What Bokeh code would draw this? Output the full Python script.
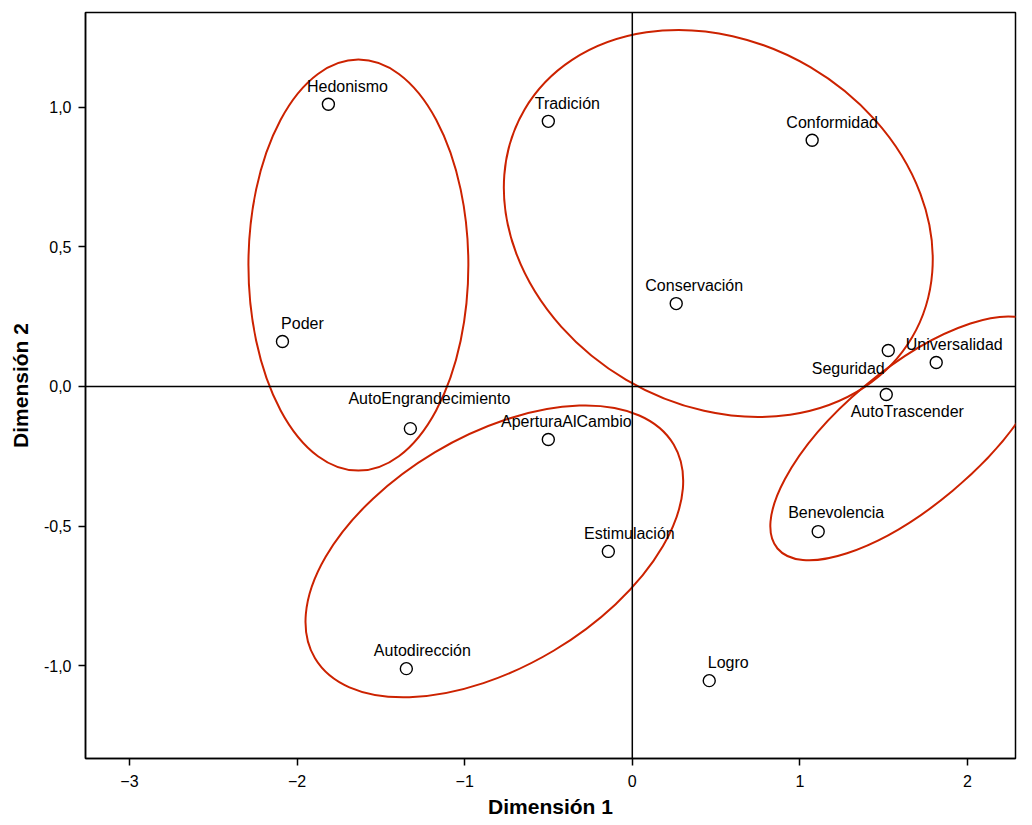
from bokeh.plotting import figure
from bokeh.models import ColumnDataSource, Span, FixedTicker
from bokeh.core.properties import value
from bokeh.embed import file_html
from bokeh.resources import INLINE

# --- data ---
names = ["Hedonismo", "Tradición", "Conformidad", "Conservación", "Poder",
         "Universalidad", "Seguridad", "AutoTrascender", "AutoEngrandecimiento",
         "AperturaAlCambio", "Estimulación", "Autodirección", "Benevolencia", "Logro"]
dim1 = [-1.813, -0.501, 1.073, 0.262, -2.087, 1.813, 1.527, 1.515, -1.324,
        -0.501, -0.143, -1.348, 1.109, 0.459]
dim2 = [1.011, 0.950, 0.882, 0.297, 0.161, 0.086, 0.129, -0.029, -0.151,
        -0.190, -0.591, -1.011, -0.520, -1.054]

# cluster ellipses (centre, width in dim1 units, height in dim2 units, angle)
ell_x = [-1.634, 0.513, -0.823, 1.649]
ell_y = [0.435, 0.584, -0.591, -0.186]
ell_w = [1.312, 2.682, 2.491, 2.044]
ell_h = [1.473, 1.300, 0.829, 0.490]
ell_a = [0.0, -30.5, 30.8, 40.0]

x_ticks = [-3, -2, -1, 0, 1, 2]
y_ticks = [-1.0, -0.5, 0.0, 0.5, 1.0]
y_tick_labels = ["-1,0", "-0,5", "0,0", "0,5", "1,0"]

# label placement (screen px offsets)
lab_dx = [19, 19, 20, 18, 20, 18, -40, 21, 19, 18, 21, 16, 18, 19]
lab_dy = [-18, -18, -18, -18, -18, -18, 18, 17, -30, -18, -18, -18, -19, -18]

FONT = "Liberation Sans"

p = figure(width=1032, height=825, output_backend="svg", toolbar_location=None,
           x_range=(-3.262, 2.286), y_range=(-1.333, 1.340),
           min_border_left=85, min_border_right=17, min_border_top=12, min_border_bottom=67,
           x_axis_label="Dimensión 1", y_axis_label="Dimensión 2")

p.grid.visible = False
p.outline_line_color = "black"
p.outline_line_width = 1.5
p.background_fill_color = "white"
p.border_fill_color = "white"

for ax in (p.xaxis[0], p.yaxis[0]):
    ax.axis_line_color = "black"
    ax.axis_line_width = 1.5
    ax.major_tick_line_color = "black"
    ax.major_tick_line_width = 1.5
    ax.major_tick_out = 7
    ax.major_tick_in = 0
    ax.minor_tick_line_color = None
    ax.major_label_text_font = FONT
    ax.major_label_text_font_size = "16px"
    ax.major_label_text_color = "black"
    ax.axis_label_text_font = FONT
    ax.axis_label_text_font_style = "bold"
    ax.axis_label_text_font_size = "21px"
    ax.axis_label_text_color = "black"

p.xaxis.ticker = FixedTicker(ticks=x_ticks)
p.yaxis.ticker = FixedTicker(ticks=y_ticks)
p.yaxis.major_label_overrides = {t: l for t, l in zip(y_ticks, y_tick_labels)}
p.xaxis.major_label_standoff = 9
p.xaxis.axis_label_standoff = 5
p.yaxis.major_label_standoff = 7
p.yaxis.axis_label_standoff = 9

p.add_layout(Span(location=0, dimension="height", line_color="black", line_width=1.5))
p.add_layout(Span(location=0, dimension="width", line_color="black", line_width=1.5))

esrc = ColumnDataSource(dict(x=ell_x, y=ell_y, w=ell_w, h=ell_h, a=ell_a))
p.ellipse(x="x", y="y", width="w", height="h", angle="a", angle_units="deg",
          source=esrc, fill_color=None, line_color="#cc2200", line_width=2)

src = ColumnDataSource(dict(x=dim1, y=dim2, name=names, dx=lab_dx, dy=lab_dy))
p.scatter(x="x", y="y", source=src, marker="circle", size=12,
          fill_color=None, line_color="black", line_width=1.4)
p.text(x="x", y="y", text="name", x_offset="dx", y_offset="dy", source=src,
       text_align="center", text_baseline="middle", text_font=value(FONT),
       text_font_size="16px", text_color="black")

open("out.html", "w").write(file_html(p, INLINE))
